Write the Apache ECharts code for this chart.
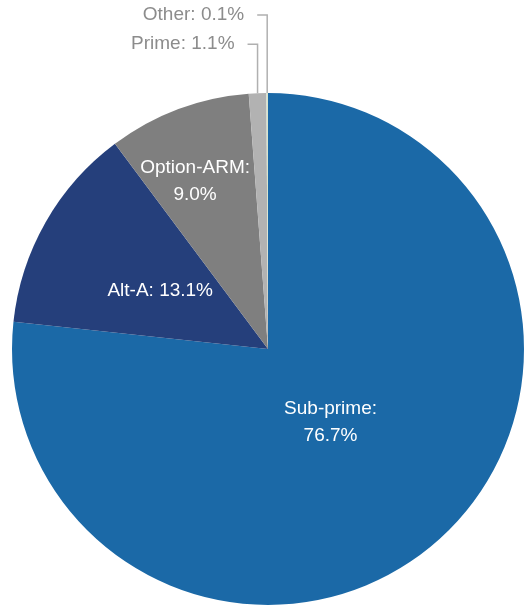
<!DOCTYPE html>
<html>
<head>
<meta charset="utf-8">
<script src="https://cdn.jsdelivr.net/npm/echarts@6/dist/echarts.min.js"></script>
<style>
  html, body { margin: 0; padding: 0; background: #fff; }
  #chart { width: 527px; height: 607px; }
</style>
</head>
<body>
<div id="chart"></div>
<script>
// Loan-type shares (percent)
const categories = ['Sub-prime', 'Alt-A', 'Option-ARM', 'Prime', 'Other'];
const shares = [76.7, 13.1, 9.0, 1.1, 0.1];
const sliceColors = ['#1B69A7', '#253F7B', '#7F7F7F', '#B2B2B2', '#D8E4CF'];

// Label placement tweaks: shifts for inside labels (from their default centre),
// rise of the leader line for outside labels
const insideShift = { 0: [-25, -24], 1: [6, 7], 2: [-27, -45] };
const outsideRise = { 3: 49, 4: 78 };
const outsideArm = 10;
const outsideGap = 13;

const chart = echarts.init(document.getElementById('chart'));

const data = categories.map((name, i) => {
  const outside = i >= 3;
  return {
    name: name,
    value: shares[i],
    itemStyle: { color: sliceColors[i] },
    label: outside
      ? { position: 'outside', color: '#8C8C8C' }
      : { position: 'inside', color: '#FFFFFF' },
    labelLine: { show: outside }
  };
});

chart.setOption({
  animation: false,
  series: [{
    type: 'pie',
    center: [268, 349],
    radius: [0, 256],
    startAngle: 90,
    clockwise: true,
    avoidLabelOverlap: false,
    minShowLabelAngle: 0,
    data: data,
    label: {
      fontFamily: 'Liberation Sans, Arial, sans-serif',
      fontSize: 19,
      lineHeight: 27,
      align: 'center',
      formatter: function (p) {
        const pct = p.value.toFixed(1) + '%';
        // Wider slices put the value on its own line
        return (p.dataIndex === 0 || p.dataIndex === 2)
          ? p.name + ':\n' + pct
          : p.name + ': ' + pct;
      }
    },
    labelLine: {
      show: false,
      lineStyle: { color: '#B0B0B0', width: 1.5 }
    },
    emphasis: { disabled: true },
    labelLayout: function (params) {
      const i = params.dataIndex;
      const r = params.labelRect;
      if (insideShift[i]) {
        return {
          x: r.x + r.width / 2 + insideShift[i][0],
          y: r.y + r.height / 2 + insideShift[i][1],
          align: 'center',
          verticalAlign: 'middle'
        };
      }
      const pts = params.labelLinePoints;
      if (!pts) return {};
      const ax = pts[0][0], ay = pts[0][1];
      const ly = ay - outsideRise[i];
      const endX = ax - outsideArm;
      return {
        x: endX - outsideGap,
        y: ly,
        align: 'right',
        verticalAlign: 'middle',
        labelLinePoints: [[ax, ay], [ax, ly], [endX, ly]]
      };
    }
  }]
});
</script>
</body>
</html>
